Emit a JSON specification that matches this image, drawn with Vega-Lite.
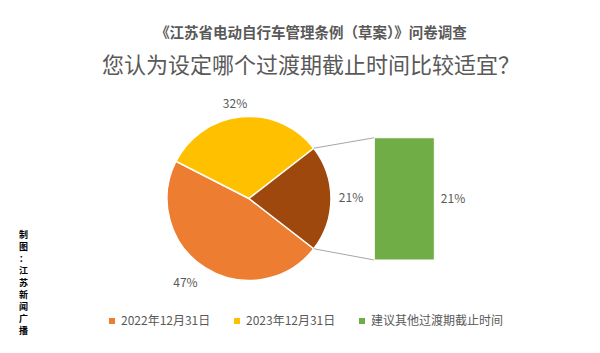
{
  "$schema": "https://vega.github.io/schema/vega-lite/v6.json",
  "width": 400,
  "height": 204,
  "autosize": {"type": "none"},
  "padding": {"left": 106, "top": 96, "right": 94, "bottom": 53},
  "background": "white",
  "title": {
    "text": "《江苏省电动自行车管理条例（草案）》问卷调查",
    "subtitle": "您认为设定哪个过渡期截止时间比较适宜？",
    "anchor": "middle",
    "dx": 5,
    "offset": 13,
    "font": "Noto Sans CJK SC",
    "fontSize": 14.5,
    "fontWeight": "bold",
    "color": "#595959",
    "subtitleFont": "Noto Sans CJK SC",
    "subtitleFontSize": 22,
    "subtitleColor": "#595959",
    "subtitlePadding": 14
  },
  "datasets": {
    "pie": [
      {"item": "2022年12月31日", "pct": 0.47},
      {"item": "2023年12月31日", "pct": 0.32},
      {"item": "其他", "pct": 0.21}
    ],
    "bar": [
      {"item": "建议其他过渡期截止时间", "pct": 0.21}
    ]
  },
  "layer": [
    {
      "data": {"name": "pie"},
      "mark": {"type": "arc", "radius": 82, "stroke": "white", "strokeWidth": 1.5},
      "encoding": {
        "x": {"datum": 0, "type": "quantitative", "scale": {"domain": [-1.7439, 3.1341], "nice": false, "zero": false}, "axis": null},
        "y": {"datum": 0, "type": "quantitative", "scale": {"domain": [-1.2378, 1.25], "nice": false, "zero": false}},
        "theta": {"field": "pct", "type": "quantitative", "stack": true, "scale": {"range": [2.2305, 8.5137]}},
        "order": {"field": "item", "sort": "ascending"},
        "color": {
          "field": "item", "type": "nominal",
          "scale": {"domain": ["2022年12月31日", "2023年12月31日", "建议其他过渡期截止时间", "其他"], "range": ["#ED7D31", "#FFC000", "#70AD47", "#9E480E"]},
          "legend": {"orient": "bottom", "direction": "horizontal", "title": null, "values": ["2022年12月31日", "2023年12月31日", "建议其他过渡期截止时间"], "symbolType": "square", "symbolSize": 36, "symbolStrokeWidth": 0, "labelFontSize": 12, "labelColor": "#595959", "labelFont": "Noto Sans CJK SC", "labelOffset": 3, "columnPadding": 20, "offset": 15, "labelLimit": 300}
        }
      }
    },
    {
      "data": {"name": "pie"},
      "mark": {"type": "text", "radius": 95, "dx": -5, "fontSize": 12, "color": "#595959", "align": "center", "baseline": "middle"},
      "encoding": {
        "x": {"datum": 0, "type": "quantitative", "scale": {"domain": [-1.7439, 3.1341], "nice": false, "zero": false}, "axis": null},
        "y": {"datum": 0, "type": "quantitative", "scale": {"domain": [-1.2378, 1.25], "nice": false, "zero": false}},
        "theta": {"field": "pct", "type": "quantitative", "stack": true},
        "order": {"field": "item", "sort": "ascending"},
        "text": {"condition": {"test": "datum.item === '2023年12月31日'", "field": "pct", "type": "quantitative", "format": ".0%"}, "value": ""}
      }
    },
    {
      "data": {"name": "pie"},
      "mark": {"type": "text", "radius": 100, "dx": -10, "fontSize": 12, "color": "#595959", "align": "center", "baseline": "middle"},
      "encoding": {
        "x": {"datum": 0, "type": "quantitative", "scale": {"domain": [-1.7439, 3.1341], "nice": false, "zero": false}, "axis": null},
        "y": {"datum": 0, "type": "quantitative", "scale": {"domain": [-1.2378, 1.25], "nice": false, "zero": false}},
        "theta": {"field": "pct", "type": "quantitative", "stack": true},
        "order": {"field": "item", "sort": "ascending"},
        "text": {"condition": {"test": "datum.item === '2022年12月31日'", "field": "pct", "type": "quantitative", "format": ".0%"}, "value": ""}
      }
    },
    {
      "data": {"name": "pie"},
      "mark": {"type": "text", "radius": 102, "fontSize": 12, "color": "#595959", "align": "center", "baseline": "middle"},
      "encoding": {
        "x": {"datum": 0, "type": "quantitative", "scale": {"domain": [-1.7439, 3.1341], "nice": false, "zero": false}, "axis": null},
        "y": {"datum": 0, "type": "quantitative", "scale": {"domain": [-1.2378, 1.25], "nice": false, "zero": false}},
        "theta": {"field": "pct", "type": "quantitative", "stack": true},
        "order": {"field": "item", "sort": "ascending"},
        "text": {"condition": {"test": "datum.item === '其他'", "field": "pct", "type": "quantitative", "format": ".0%"}, "value": ""}
      }
    },
    {
      "data": {"name": "bar"},
      "mark": {"type": "rule", "color": "#A6A6A6", "strokeWidth": 1},
      "encoding": {
        "x": {"datum": 0.79, "type": "quantitative", "scale": {"domain": [-1.7439, 3.1341], "nice": false, "zero": false}, "axis": null},
        "y": {"datum": 0.613, "type": "quantitative", "scale": {"domain": [-1.2378, 1.25], "nice": false, "zero": false}},
        "x2": {"datum": 1.528},
        "y2": {"datum": 0.741}
      }
    },
    {
      "data": {"name": "bar"},
      "mark": {"type": "rule", "color": "#A6A6A6", "strokeWidth": 1},
      "encoding": {
        "x": {"datum": 0.79, "type": "quantitative", "scale": {"domain": [-1.7439, 3.1341], "nice": false, "zero": false}, "axis": null},
        "y": {"datum": -0.613, "type": "quantitative", "scale": {"domain": [-1.2378, 1.25], "nice": false, "zero": false}},
        "x2": {"datum": 1.528},
        "y2": {"datum": -0.75}
      }
    },
    {
      "data": {"name": "bar"},
      "mark": {"type": "rect", "stroke": "white", "strokeWidth": 1},
      "encoding": {
        "x": {"datum": 1.528, "type": "quantitative", "scale": {"domain": [-1.7439, 3.1341], "nice": false, "zero": false}, "axis": null},
        "x2": {"datum": 2.26},
        "y": {"datum": 0.741, "type": "quantitative", "scale": {"domain": [-1.2378, 1.25], "nice": false, "zero": false},
          "axis": {"title": ["制", "图", "：", "江", "苏", "新", "闻", "广", "播"], "orient": "left", "labels": false, "ticks": false, "domain": false, "grid": false, "titleAngle": 0, "titleX": -83, "titleY": 134, "titleAlign": "center", "titleBaseline": "top", "titleFontSize": 9, "titleFontWeight": "bold", "titleColor": "#000000", "titleLineHeight": 12, "titleFont": "Noto Sans CJK SC"}},
        "y2": {"datum": -0.75},
        "color": {"field": "item", "type": "nominal"}
      }
    },
    {
      "data": {"name": "bar"},
      "mark": {"type": "text", "fontSize": 12, "color": "#595959", "align": "center", "baseline": "middle"},
      "encoding": {
        "x": {"datum": 2.488, "type": "quantitative", "scale": {"domain": [-1.7439, 3.1341], "nice": false, "zero": false}, "axis": null},
        "y": {"datum": 0, "type": "quantitative", "scale": {"domain": [-1.2378, 1.25], "nice": false, "zero": false}},
        "text": {"field": "pct", "type": "quantitative", "format": ".0%"}
      }
    }
  ],
  "config": {
    "view": {"stroke": null},
    "font": "Noto Sans CJK SC"
  }
}
